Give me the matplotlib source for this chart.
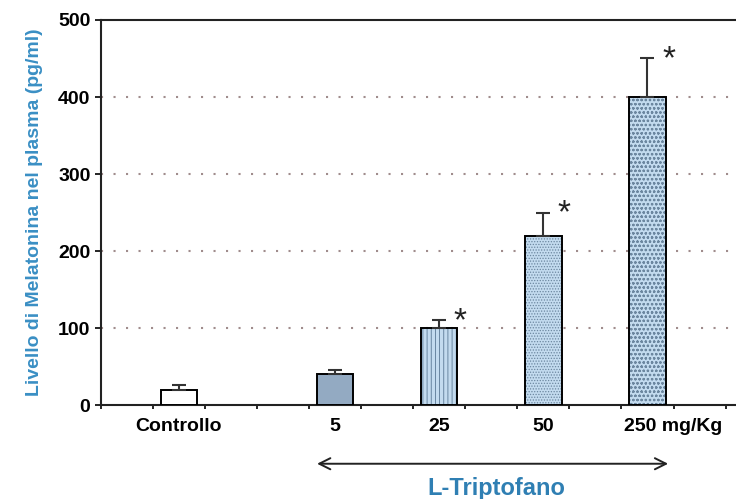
import matplotlib
matplotlib.use("Agg")
import matplotlib.pyplot as plt
import numpy as np

plt.rcParams['font.family'] = ['Liberation Sans', 'DejaVu Sans']
plt.rcParams['font.weight'] = 'bold'
plt.rcParams['axes.labelweight'] = 'bold'
plt.rcParams['hatch.linewidth'] = 0.6

# melatonin levels by dose
groups = ['Controllo', '5', '25', '50', '250 mg/Kg']
slots = [1.5, 4.5, 6.5, 8.5, 10.5]
values = [20, 40, 100, 220, 400]
errors = [6, 6, 10, 30, 50]
signif = [False, False, True, True, True]

faces = ['white', '#93aac2', '#c3dbef', '#c3dbef', '#c3dbef']
hatches = [None, None, '||||', '......', 'oooo']
hatch_cols = ['k', 'k', '#5a7894', '#6c87a0', '#6c87a0']

blue = '#3a8fc4'

fig = plt.figure(figsize=(7.36, 4.99), dpi=100)
ax = fig.add_axes([0.137, 0.188, 0.863, 0.772])

for x, v, e, fc, h, hc in zip(slots, values, errors, faces, hatches, hatch_cols):
    b = ax.bar(x, v, width=0.7, color=fc, edgecolor='black', linewidth=1.4, zorder=3)
    if h:
        b[0].set_hatch(h)
        b[0]._hatch_color = matplotlib.colors.to_rgba(hc)
    ax.errorbar(x, v, yerr=[[0], [e]], fmt='none', ecolor='#333333',
                elinewidth=1.5, capsize=5, capthick=1.5, zorder=4)

for x, v, e, s in zip(slots, values, errors, signif):
    if s:
        ax.text(x + 0.28, v + e - 2, '*', fontsize=24, fontweight='normal',
                ha='left', va='center', color='#222222')

ax.set_xlim(0, 12.2)
ax.set_ylim(0, 500)
ax.set_yticks([0, 100, 200, 300, 400, 500])
ax.set_xticks(np.arange(0, 13))
ax.set_xticklabels([])
ax.tick_params(axis='both', length=4, width=1.2, direction='out', labelsize=14)
ax.tick_params(axis='x', length=3)
for yv in [100, 200, 300, 400]:
    ax.axhline(yv, color='#a08c8c', linestyle=(0, (1, 5)), linewidth=1.5, zorder=1)

for side in ['left', 'bottom', 'top']:
    ax.spines[side].set_linewidth(1.5)
    ax.spines[side].set_color('#222222')
ax.spines['right'].set_visible(False)

label_x = [1.5, 4.5, 6.5, 8.5, 11.0]
for x, g in zip(label_x, groups):
    ax.text(x, -28, g, ha='center', va='center', fontsize=14)

ax.annotate('', xy=(4.1, -76), xytext=(10.95, -76), xycoords='data',
            arrowprops=dict(arrowstyle='<->', color='#222222', lw=1.4,
                            mutation_scale=20), annotation_clip=False)
ax.text(7.6, -108, 'L-Triptofano', ha='center', va='center', fontsize=17,
        color='#2f7fb3', clip_on=False)

ax.set_ylabel('Livello di Melatonina nel plasma (pg/ml)', color=blue,
              fontsize=14, labelpad=11)

fig.savefig('out.png', dpi=100)
